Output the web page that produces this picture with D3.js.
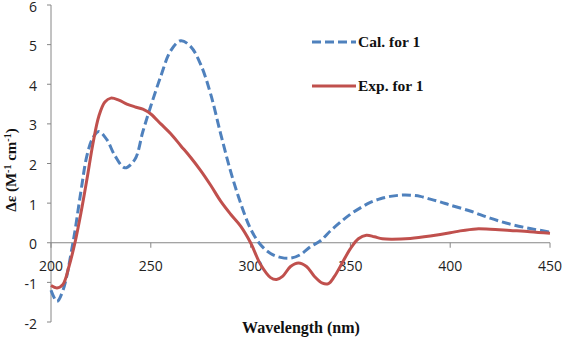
<!DOCTYPE html>
<html>
<head>
<meta charset="utf-8">
<script src="https://cdn.jsdelivr.net/npm/d3@7"></script>
<style>
  body { margin: 0; background: #fff; }
  svg { display: block; }
</style>
</head>
<body>
<svg id="chart" width="563" height="338"></svg>
<script>
// ---- data ----
const xTicks = [200, 250, 300, 350, 400, 450];
const yTicks = [-2, -1, 0, 1, 2, 3, 4, 5, 6];

const calWave = [200, 203, 206, 211, 215, 218, 221, 224, 228, 232, 237, 242, 246, 250, 255, 260, 265, 270, 275, 280, 285, 290, 295, 300, 305, 310, 315, 320, 325, 330, 335, 340, 345, 350, 355, 360, 365, 370, 375, 380, 385, 390, 395, 400, 410, 420, 430, 440, 450];
const calVal  = [-1.2, -1.48, -1.2, 0, 1.3, 2.2, 2.65, 2.81, 2.6, 2.2, 1.89, 2.1, 2.8, 3.45, 4.2, 4.85, 5.1, 4.95, 4.5, 3.75, 2.75, 1.8, 1.0, 0.35, -0.05, -0.27, -0.37, -0.39, -0.3, -0.1, 0.05, 0.3, 0.52, 0.72, 0.88, 1.02, 1.11, 1.17, 1.2, 1.2, 1.17, 1.1, 1.03, 0.95, 0.8, 0.62, 0.47, 0.36, 0.27];

const expWave = [200, 203, 206, 209, 212, 215, 218, 221, 224, 227, 230, 234, 238, 242, 246, 250, 255, 260, 265, 270, 275, 280, 285, 290, 295, 300, 305, 310, 313, 316, 320, 324, 328, 332, 336, 339, 342, 346, 350, 354, 358, 362, 366, 371, 380, 390, 400, 405, 413, 420, 430, 440, 450];
const expVal  = [-1.08, -1.14, -1.05, -0.6, 0, 0.75, 1.6, 2.5, 3.2, 3.55, 3.65, 3.6, 3.5, 3.43, 3.37, 3.25, 3.0, 2.75, 2.45, 2.15, 1.82, 1.45, 1.05, 0.72, 0.42, 0.0, -0.55, -0.88, -0.93, -0.85, -0.6, -0.51, -0.6, -0.85, -1.02, -1.03, -0.85, -0.5, -0.15, 0.1, 0.19, 0.15, 0.1, 0.09, 0.11, 0.17, 0.25, 0.3, 0.35, 0.34, 0.31, 0.28, 0.24];

const seriesNames = ["Cal. for 1", "Exp. for 1"];

// ---- layout ----
const svg = d3.select("#chart");
const x = d3.scaleLinear().domain([200, 450]).range([51, 550]);
const y = d3.scaleLinear().domain([-2, 6]).range([322, 5]);

const axisColor = "#868686";
const blue = "#4f81bd";
const red = "#c0504d";

// y axis line + ticks
svg.append("line")
  .attr("x1", x(200)).attr("x2", x(200))
  .attr("y1", y(-2)).attr("y2", y(6))
  .attr("stroke", axisColor).attr("stroke-width", 1);

svg.selectAll(".ytick")
  .data(yTicks)
  .enter()
  .append("line")
  .attr("x1", x(200) - 4).attr("x2", x(200))
  .attr("y1", d => y(d)).attr("y2", d => y(d))
  .attr("stroke", axisColor);

svg.selectAll(".ylab")
  .data(yTicks)
  .enter()
  .append("text")
  .attr("x", 37)
  .attr("y", d => y(d) + 6.5)
  .attr("text-anchor", "end")
  .style("font-family", "'Open Sans', sans-serif")
  .style("font-size", "14px")
  .style("fill", "#222")
  .text(d => d);

// x axis along zero
svg.append("line")
  .attr("x1", x(200)).attr("x2", x(450))
  .attr("y1", y(0)).attr("y2", y(0))
  .attr("stroke", axisColor).attr("stroke-width", 1);

svg.selectAll(".xtick")
  .data(xTicks)
  .enter()
  .append("line")
  .attr("x1", d => x(d)).attr("x2", d => x(d))
  .attr("y1", y(0)).attr("y2", y(0) + 5)
  .attr("stroke", axisColor);

svg.selectAll(".xlab")
  .data(xTicks)
  .enter()
  .append("text")
  .attr("x", d => x(d))
  .attr("y", y(0) + 28)
  .attr("text-anchor", "middle")
  .style("font-family", "'Open Sans', sans-serif")
  .style("font-size", "14px")
  .style("fill", "#222")
  .text(d => d);

// ---- curves ----
const line = d3.line()
  .x(d => x(d[0]))
  .y(d => y(d[1]))
  .curve(d3.curveCatmullRom.alpha(0.5));

svg.append("path")
  .datum(calWave.map((w, i) => [w, calVal[i]]))
  .attr("d", line)
  .attr("fill", "none")
  .attr("stroke", blue)
  .attr("stroke-width", 3)
  .attr("stroke-dasharray", "9,4");

svg.append("path")
  .datum(expWave.map((w, i) => [w, expVal[i]]))
  .attr("d", line)
  .attr("fill", "none")
  .attr("stroke", red)
  .attr("stroke-width", 3);

// ---- legend ----
const legend = svg.append("g");
const legendItems = [
  { name: seriesNames[0], color: blue, dash: "9,4", y: 42 },
  { name: seriesNames[1], color: red, dash: null, y: 86 }
];
legendItems.forEach(d => {
  legend.append("line")
    .attr("x1", 312).attr("x2", 356)
    .attr("y1", d.y).attr("y2", d.y)
    .attr("stroke", d.color)
    .attr("stroke-width", 3)
    .attr("stroke-dasharray", d.dash);
  legend.append("text")
    .attr("x", 358)
    .attr("y", d.y + 5)
    .style("font-family", "'Liberation Serif', serif")
    .style("font-weight", "bold")
    .style("font-size", "15.5px")
    .style("fill", "#111")
    .text(d.name);
});

// ---- axis titles ----
svg.append("text")
  .attr("x", 301)
  .attr("y", 333)
  .attr("text-anchor", "middle")
  .style("font-family", "'Liberation Serif', serif")
  .style("font-weight", "bold")
  .style("font-size", "16px")
  .style("fill", "#111")
  .text("Wavelength (nm)");

const yTitle = svg.append("text")
  .attr("transform", "translate(16,170) rotate(-90)")
  .attr("text-anchor", "middle")
  .style("font-family", "'Liberation Serif', serif")
  .style("font-weight", "bold")
  .style("font-size", "15px")
  .style("fill", "#111");
yTitle.append("tspan").text("Δε (M");
yTitle.append("tspan").attr("dy", -5).style("font-size", "10px").text("-1");
yTitle.append("tspan").attr("dy", 5).text(" cm");
yTitle.append("tspan").attr("dy", -5).style("font-size", "10px").text("-1");
yTitle.append("tspan").attr("dy", 5).text(")");
</script>
</body>
</html>
